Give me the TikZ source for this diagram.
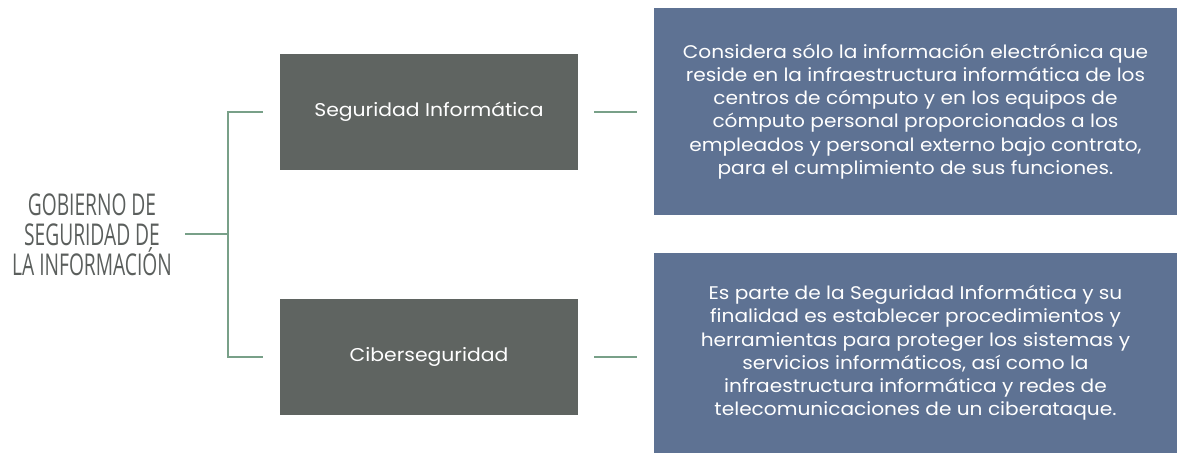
\documentclass[tikz,border=0pt]{standalone}
\usepackage{fontspec}
\setmainfont{Poppins}[FakeStretch=1.1]
\newfontfamily\condfont[FakeStretch=0.64]{Open Sans}
\definecolor{boxgray}{HTML}{5F6461}
\definecolor{boxblue}{HTML}{5E7293}
\definecolor{linkgreen}{HTML}{78A088}
\definecolor{titlegray}{HTML}{5B5F5D}

\begin{document}
\begin{tikzpicture}[x=1pt,y=1pt,
  topic/.style={rectangle,fill=boxgray,text=white,minimum width=298pt,minimum height=116pt,font=\fontsize{18.5}{22}\selectfont},
  desc/.style={rectangle,fill=boxblue,text=white,align=center,font=\fontsize{18.3}{23.2}\selectfont},
  link/.style={draw=linkgreen,line width=2.8pt}]
\def\yTop{342}
\def\yBot{97}
\useasboundingbox (0,0) rectangle (1177,454);
% left title
\node[align=center,text=titlegray,font=\condfont\fontsize{30}{30}\selectfont] (title) at (92,219)
  {GOBIERNO DE\\SEGURIDAD DE\\LA INFORMACIÓN};
% middle boxes
\node[topic] (seg) at (429,\yTop) {Seguridad Informática};
\node[topic] (ciber) at (429,\yBot) {Ciberseguridad};
% right boxes
\node[desc,minimum width=523pt,minimum height=207pt] (desc1) at (915.5,342.5)
  {Considera sólo la información electrónica que\\
   reside en la infraestructura informática de los\\
   centros de cómputo y en los equipos de\\
   cómputo personal proporcionados a los\\
   empleados y personal externo bajo contrato,\\
   para el cumplimiento de sus funciones.};
\node[desc,minimum width=523pt,minimum height=200pt] (desc2) at (915.5,101)
  {Es parte de la Seguridad Informática y su\\
   finalidad es establecer procedimientos y\\
   herramientas para proteger los sistemas y\\
   servicios informáticos, así como la\\
   infraestructura informática y redes de\\
   telecomunicaciones de un ciberataque.};

\coordinate (hub) at (228,220);
\coordinate (stub) at (185,220);
\draw[link] (stub) -- (hub);
\draw[link] ([xshift=-17pt]seg.west) -| (hub) |- ([xshift=-17pt]ciber.west);
\draw[link] ([xshift=16pt]seg.east) -- ([xshift=-17pt]desc1.west |- seg.east);
\draw[link] ([xshift=16pt]ciber.east) -- ([xshift=-17pt]desc2.west |- ciber.east);
\end{tikzpicture}
\end{document}
